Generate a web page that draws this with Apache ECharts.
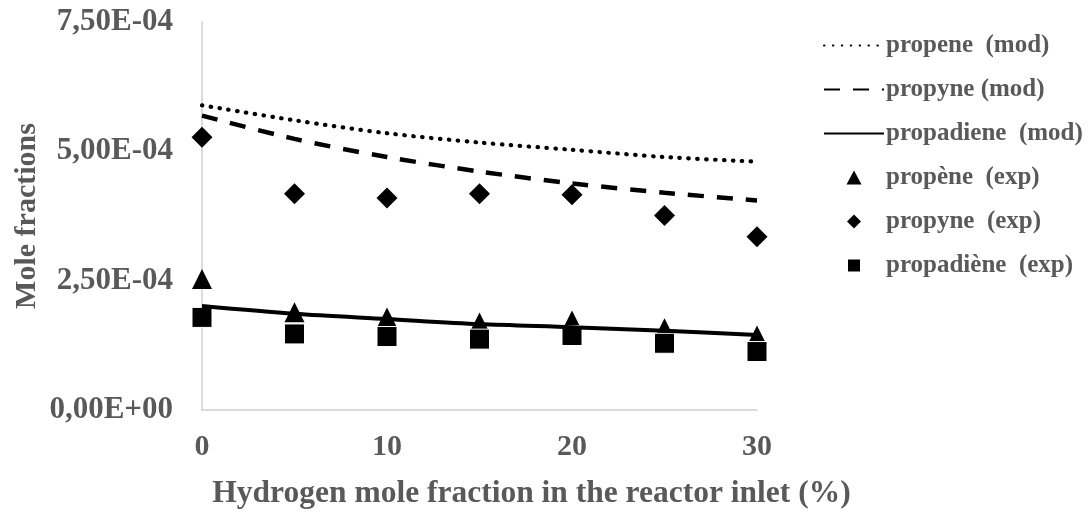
<!DOCTYPE html>
<html>
<head>
<meta charset="utf-8">
<script src="https://cdn.jsdelivr.net/npm/echarts@6/dist/echarts.min.js"></script>
<style>
html,body{margin:0;padding:0;background:#fff;}
#chart{width:1091px;height:515px;}
</style>
</head>
<body>
<div id="chart"></div>
<script>
// Hydrogen mole fraction (%) at the inlet
const hydrogen = [0, 5, 10, 15, 20, 25, 30];
// model curves (mole fraction, x1e-4)
const propeneMod    = [5.89, 5.60, 5.35, 5.17, 5.03, 4.89, 4.80];
const propyneMod    = [5.69, 5.24, 4.89, 4.61, 4.38, 4.20, 4.05];
const propadieneMod = [2.01, 1.86, 1.76, 1.66, 1.60, 1.53, 1.45];
// experiments (x1e-4)
const propeneExp    = [2.53, 1.89, 1.79, 1.69, 1.73, 1.58, 1.44];
const propyneExp    = [5.27, 4.18, 4.10, 4.18, 4.16, 3.76, 3.35];
const propadieneExp = [1.79, 1.47, 1.42, 1.37, 1.44, 1.29, 1.13];
const yTicks = [0, 2.5e-4, 5e-4, 7.5e-4];
const seriesNames = ['propene  (mod)', 'propyne (mod)', 'propadiene  (mod)', 'propène  (exp)', 'propyne  (exp)', 'propadiène  (exp)'];

const toPairs = arr => hydrogen.map((h, i) => [h, arr[i] * 1e-4]);
function fmtSci(v) {
  const s = Number(v).toExponential(2);
  const m = s.split('e');
  const exp = parseInt(m[1], 10);
  const sign = exp < 0 ? '-' : '+';
  const e = String(Math.abs(exp)).padStart(2, '0');
  return m[0].replace('.', ',') + 'E' + sign + e;
}

const grey = '#595959';
const font = '"Liberation Serif", "Times New Roman", serif';
const hidden = {color: 'rgba(0,0,0,0)', borderColor: 'rgba(0,0,0,0)', borderWidth: 0, opacity: 0};
const chart = echarts.init(document.getElementById('chart'), null, {renderer: 'canvas'});
chart.setOption({
  animation: false,
  backgroundColor: '#fff',
  grid: {left: 202, right: 334, top: 22, bottom: 105, containLabel: false, outerBoundsMode: 'none'},
  xAxis: {
    type: 'value', min: 0, max: 30, interval: 10,
    name: 'Hydrogen mole fraction in the reactor inlet (%)',
    nameLocation: 'middle', nameGap: 68, nameMoveOverlap: false,
    nameTextStyle: {fontFamily: font, fontWeight: 'bold', fontSize: 31.5, color: grey, padding: [0, 0, 0, 104]},
    axisLine: {show: true, lineStyle: {color: '#d0d0d0', width: 1.5}},
    axisTick: {show: false},
    splitLine: {show: false},
    axisLabel: {fontFamily: font, fontWeight: 'bold', fontSize: 30, color: grey, margin: 22}
  },
  yAxis: {
    type: 'value', min: yTicks[0], max: yTicks[yTicks.length - 1], interval: yTicks[1] - yTicks[0],
    name: 'Mole fractions', nameLocation: 'middle', nameGap: 160, nameRotate: 90, nameMoveOverlap: false,
    nameTextStyle: {fontFamily: font, fontWeight: 'bold', fontSize: 30, color: grey},
    axisLine: {show: true, lineStyle: {color: '#d0d0d0', width: 1.5}},
    axisTick: {show: false},
    splitLine: {show: false},
    axisLabel: {fontFamily: font, fontWeight: 'bold', fontSize: 31, color: grey, margin: 29, formatter: fmtSci}
  },
  legend: {
    orient: 'vertical', left: 818, top: 28,
    itemWidth: 60, itemHeight: 14, itemGap: 19, symbolKeepAspect: true,
    textStyle: {fontFamily: font, fontWeight: 'bold', fontSize: 25, color: grey, padding: [0, 0, 0, -3]},
    data: [
      {name: seriesNames[0], itemStyle: hidden},
      {name: seriesNames[1], itemStyle: hidden},
      {name: seriesNames[2], itemStyle: hidden},
      {name: seriesNames[3], icon: 'path://M0,14 L7.5,0 L15,14 Z'},
      {name: seriesNames[4], icon: 'path://M7,0 L14,7 L7,14 L0,7 Z'},
      {name: seriesNames[5], icon: 'path://M0,0 L14,0 L14,14 L0,14 Z'}
    ]
  },
  series: [
    {name: seriesNames[0], type: 'line', data: toPairs(propeneMod), smooth: 0.3, symbol: 'none', z: 3,
     lineStyle: {color: '#000', width: 4.2, type: [0.5, 8.4], cap: 'round'}, itemStyle: {color: '#000'}},
    {name: seriesNames[1], type: 'line', data: toPairs(propyneMod), smooth: 0.3, symbol: 'none', z: 3,
     lineStyle: {color: '#000', width: 4.5, type: [16, 13]}, itemStyle: {color: '#000'}},
    {name: seriesNames[2], type: 'line', data: toPairs(propadieneMod), smooth: 0.3, symbol: 'none', z: 4,
     lineStyle: {color: '#000', width: 4, type: 'solid'}, itemStyle: {color: '#000'}},
    {name: seriesNames[3], type: 'scatter', data: toPairs(propeneExp), symbol: 'triangle', symbolSize: 20, z: 2,
     itemStyle: {color: '#000', opacity: 1}},
    {name: seriesNames[4], type: 'scatter', data: toPairs(propyneExp), symbol: 'diamond', symbolSize: 21, z: 2,
     itemStyle: {color: '#000', opacity: 1}},
    {name: seriesNames[5], type: 'scatter', data: toPairs(propadieneExp), symbol: 'rect', symbolSize: 20, z: 3,
     itemStyle: {color: '#000', opacity: 1, borderColor: '#fff', borderWidth: 1}}
  ]
});
</script>
</body>
</html>
